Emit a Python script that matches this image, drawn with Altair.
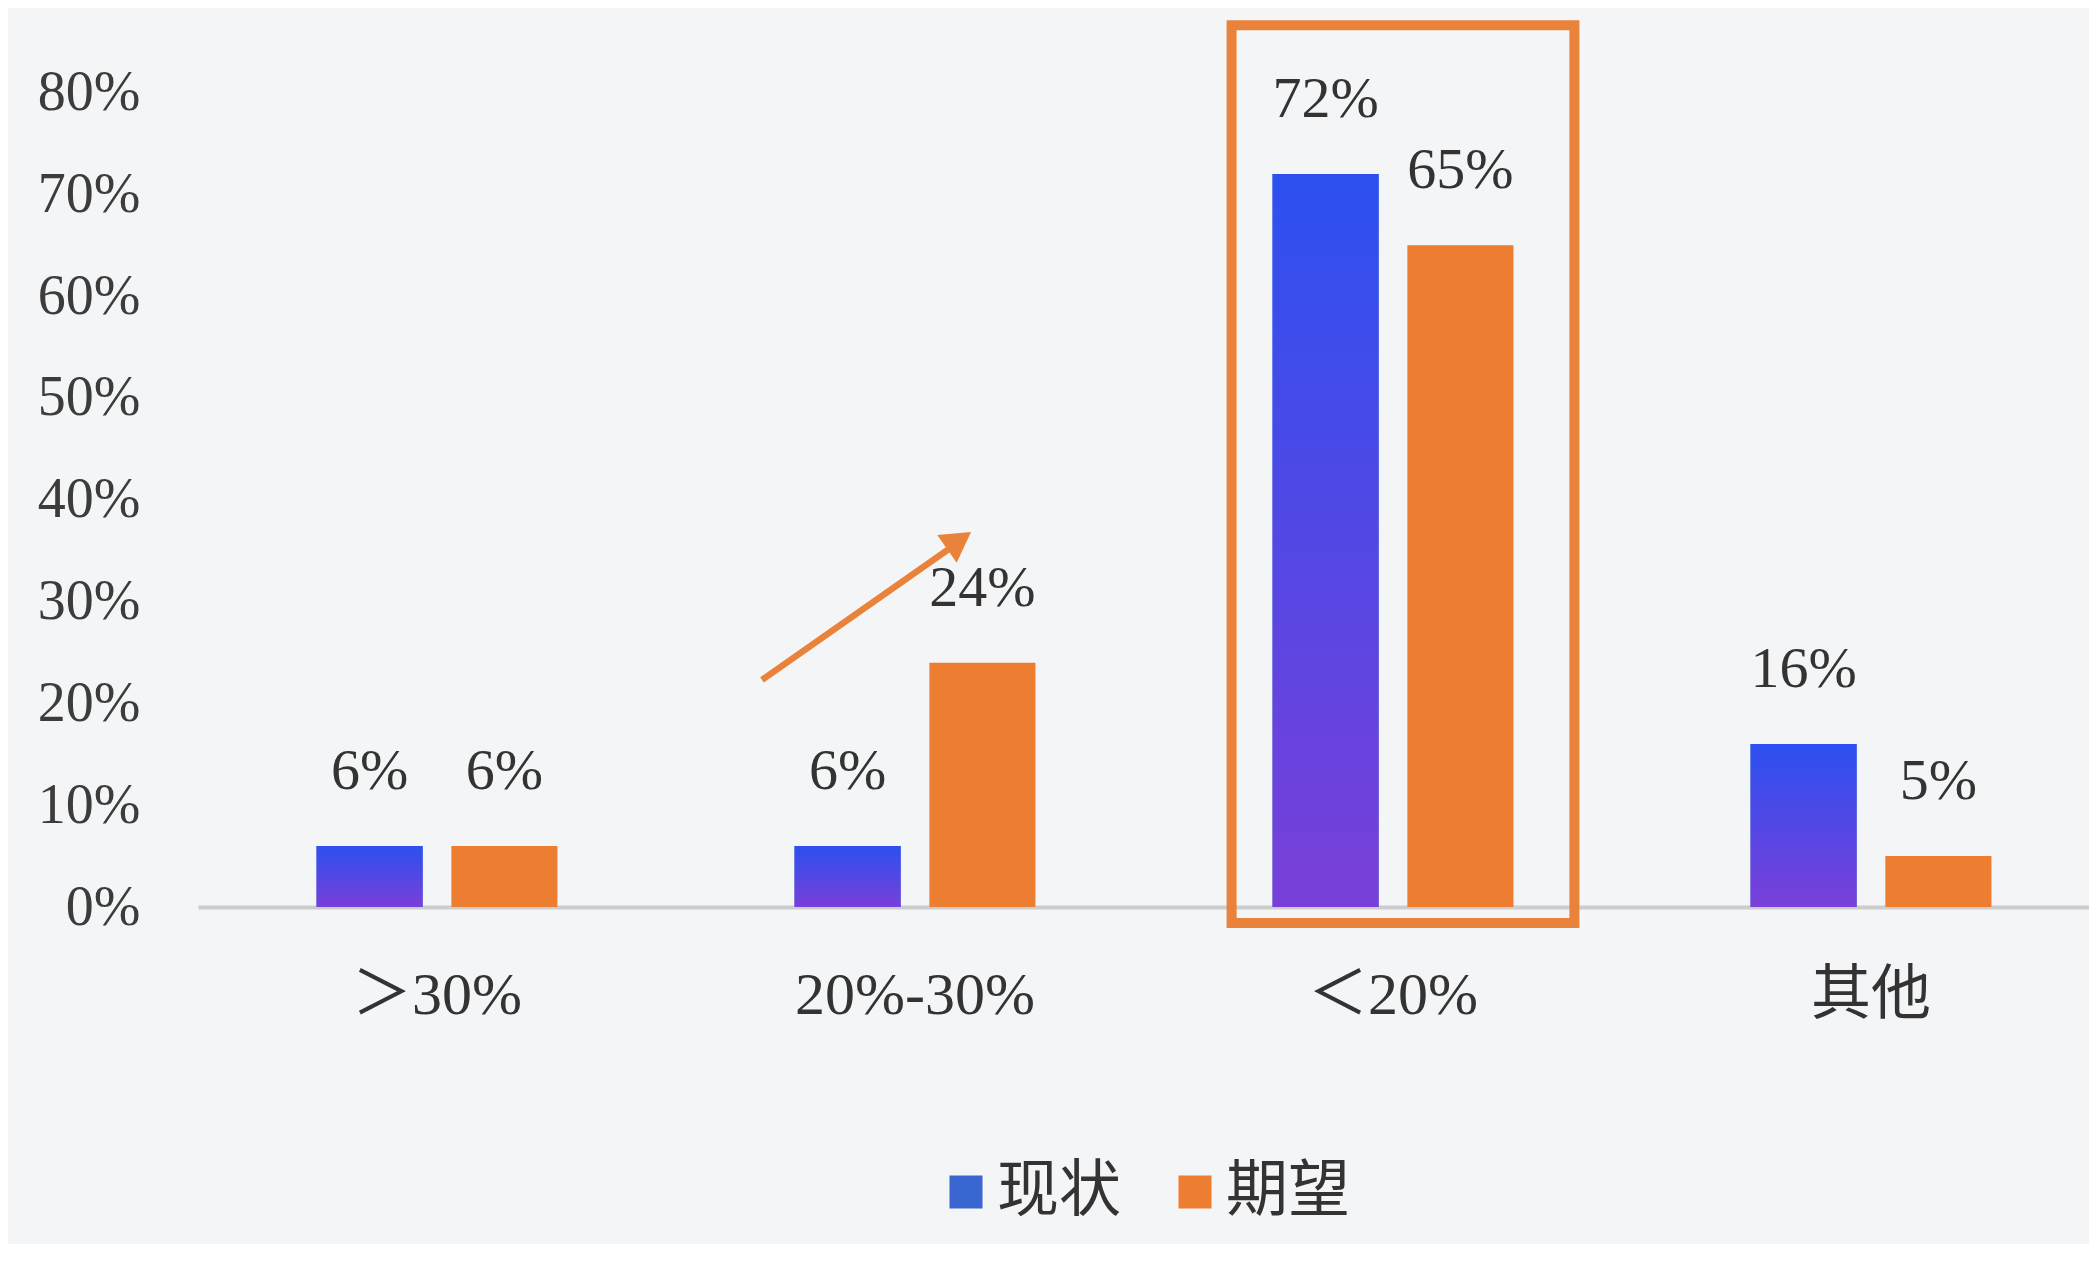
import altair as alt
import pandas as pd

# ---- data ----
categories = ["＞30%", "20%-30%", "＜20%", "其他"]
series = ["现状", "期望"]
current_values = [6, 6, 72, 16]
expected_values = [6, 24, 65, 5]
y_ticks = [0, 10, 20, 30, 40, 50, 60, 70, 80]
highlight_category = ["＜20%"]
arrow_category = "20%-30%"

rows = []
for c, v in zip(categories, current_values):
    rows.append({"cat": c, "series": series[0], "value": v, "label": f"{v}%"})
for c, v in zip(categories, expected_values):
    rows.append({"cat": c, "series": series[1], "value": v, "label": f"{v}%"})
df = pd.DataFrame(rows)
hl_df = pd.DataFrame({"cat": highlight_category})

# ---- styles ----
FONT = "Liberation Serif, Noto Sans CJK SC"
TEXT_COLOR = "#333333"
BLUE = "#3A66D2"
ORANGE = "#ED7D31"
BOX_ORANGE = "#E9823A"
grad = alt.Gradient(
    gradient="linear",
    stops=[alt.GradientStop(color="#2C50F0", offset=0),
           alt.GradientStop(color="#7A3FD9", offset=1)],
    x1=0, x2=0, y1=0, y2=1,
)

x_scale = alt.Scale(domain=categories, range=[0, 1912], paddingInner=0.496, paddingOuter=0.248)
y_scale = alt.Scale(domain=[0, 88], nice=False, zero=False)

x_enc = alt.X(
    "cat:N", sort=categories, scale=x_scale,
    axis=alt.Axis(title=None, labelAngle=0, labelFontSize=60, labelFont=FONT,
                  labelColor=TEXT_COLOR, ticks=False, tickSize=0, labelPadding=88,
                  labelBaseline="middle", labelLimit=0, domainColor="#CDCDCD",
                  domainWidth=4, grid=False),
)
xo_enc = alt.XOffset("series:N", sort=series,
                     scale=alt.Scale(domain=series, paddingInner=0.213, paddingOuter=0))
y_enc = alt.Y(
    "value:Q", scale=y_scale,
    axis=alt.Axis(title=None, values=y_ticks, labelExpr="datum.value + '%'",
                  labelFontSize=56, labelFont=FONT, labelColor="#3C3C3C",
                  ticks=False, tickSize=0, domain=False, grid=False, labelPadding=58),
)

base = alt.Chart(df)

bars = base.mark_bar().encode(
    x=x_enc, xOffset=xo_enc, y=y_enc,
    color=alt.Color("series:N", sort=series,
                    scale=alt.Scale(domain=series, range=[BLUE, ORANGE]),
                    legend=alt.Legend(title=None, orient="none", direction="horizontal",
                                      legendX=737, legendY=1150,
                                      symbolType="square", symbolSize=1089,
                                      symbolStrokeWidth=0, labelFontSize=62,
                                      labelFont="Noto Sans CJK SC", labelColor=TEXT_COLOR,
                                      labelOffset=0, columnPadding=42)),
)

grad_bars = base.transform_filter(alt.datum.series == series[0]).mark_bar(
    color=grad
).encode(x=alt.X("cat:N", sort=categories), xOffset=alt.XOffset("series:N", sort=series), y="value:Q")

labels = base.mark_text(dy=-74, fontSize=58, font=FONT, color=TEXT_COLOR, baseline="middle").encode(
    x=alt.X("cat:N", sort=categories), xOffset=alt.XOffset("series:N", sort=series),
    y="value:Q", text="label:N",
)

box = alt.Chart(hl_df).mark_rect(
    filled=False, stroke=BOX_ORANGE, strokeWidth=10, width={"band": 1.423}, xOffset=10
).encode(
    x=alt.X("cat:N", sort=categories),
    y=alt.datum(86.6), y2=alt.datum(-1.57),
)

arrow_line = alt.Chart(hl_df).mark_rule(
    color=BOX_ORANGE, strokeWidth=6.5, xOffset=-153, x2Offset=33
).encode(
    x=alt.datum(arrow_category), x2=alt.datum(arrow_category),
    y=alt.datum(22.3), y2=alt.datum(35.1),
)

arrow_head = alt.Chart(hl_df).mark_point(
    shape="triangle-up", filled=True, size=1150, angle=55, color=BOX_ORANGE,
    opacity=1, xOffset=44
).encode(
    x=alt.datum(arrow_category), y=alt.datum(36.0),
)

chart = alt.layer(bars, grad_bars, labels, box, arrow_line, arrow_head).properties(
    width=1891, height=896,
    padding={"left": 190, "top": 3, "right": 0, "bottom": 337},
    autosize=alt.AutoSizeParams(type="none"),
    background="#F4F5F6",
).configure_view(stroke=None)

chart.save("out.html", embed_options={"renderer": "svg", "actions": False})
